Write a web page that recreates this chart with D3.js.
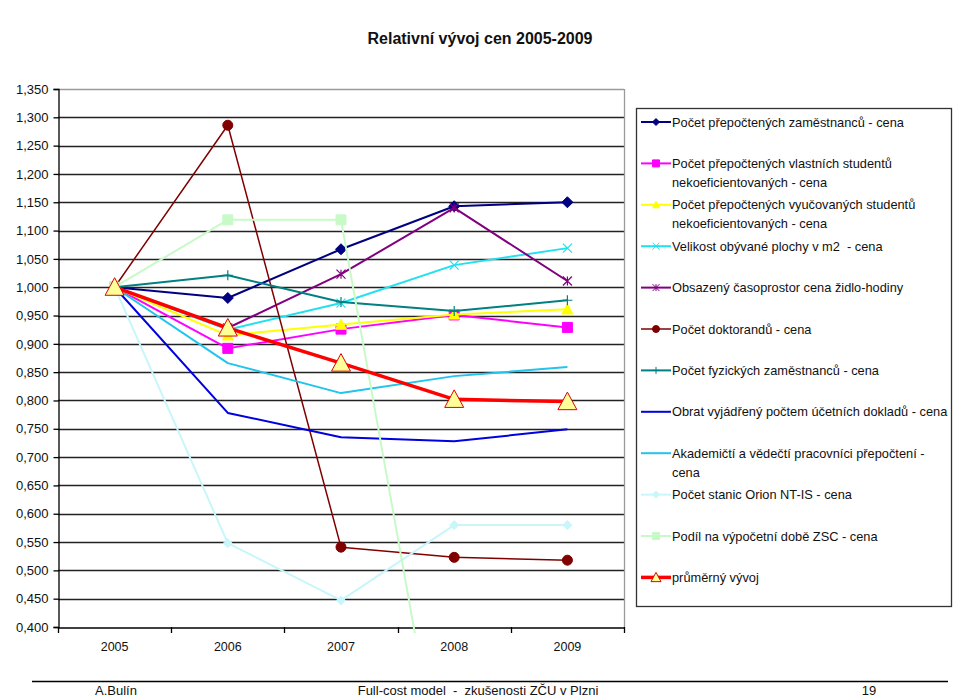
<!DOCTYPE html>
<html>
<head>
<meta charset="utf-8">
<script src="https://cdn.jsdelivr.net/npm/d3@7"></script>
<style>
  html, body { margin: 0; padding: 0; background: #fff; }
  text { font-family: "Liberation Sans", Arial, sans-serif; fill: #111; }
</style>
</head>
<body>
<svg id="chart" width="960" height="699"></svg>
<script>
// ---------------- DATA ----------------
const years = ["2005", "2006", "2007", "2008", "2009"];
const yTicks = [0.40, 0.45, 0.50, 0.55, 0.60, 0.65, 0.70, 0.75, 0.80, 0.85, 0.90, 0.95, 1.00, 1.05, 1.10, 1.15, 1.20, 1.25, 1.30, 1.35];

const seriesNames = [
  ["Počet přepočtených zaměstnanců - cena"],
  ["Počet přepočtených vlastních studentů", "nekoeficientovaných - cena"],
  ["Počet přepočtených vyučovaných studentů", "nekoeficientovaných - cena"],
  ["Velikost obývané plochy v m2  - cena"],
  ["Obsazený časoprostor cena židlo-hodiny"],
  ["Počet doktorandů - cena"],
  ["Počet fyzických zaměstnanců - cena"],
  ["Obrat vyjádřený počtem účetních dokladů - cena"],
  ["Akademičtí a vědečtí pracovníci přepočtení -", "cena"],
  ["Počet stanic Orion NT-IS - cena"],
  ["Podíl na výpočetní době ZSC - cena"],
  ["průměrný vývoj"]
];

const zamestnanci   = [1.000, 0.981, 1.067, 1.143, 1.150];
const vlastniStud   = [1.000, 0.892, 0.926, 0.951, 0.929];
const vyucovaniStud = [1.000, 0.915, 0.934, 0.952, 0.961];
const plocha        = [1.000, 0.925, 0.972, 1.039, 1.069];
const casoprostor   = [1.000, 0.928, 1.023, 1.140, 1.011];
const doktorandi    = [1.000, 1.286, 0.541, 0.523, 0.518];
const fyzicti       = [1.000, 1.021, 0.974, 0.958, 0.977];
const obrat         = [1.000, 0.778, 0.735, 0.728, 0.749];
const akademicti    = [1.000, 0.866, 0.813, 0.843, 0.859];
const orion         = [1.000, 0.548, 0.447, 0.580, 0.580];
const zsc           = [1.000, 1.119, 1.119, 0.000, 0.000];
const prumer        = [1.000, 0.928, 0.866, 0.802, 0.798];

const seriesValues = [zamestnanci, vlastniStud, vyucovaniStud, plocha, casoprostor,
  doktorandi, fyzicti, obrat, akademicti, orion, zsc, prumer];

// ---------------- STYLE ----------------
const styles = [
  { color: "#000080", width: 2,   marker: "diamond",  mfill: "#000080", mstroke: "#000080", msize: 11 },
  { color: "#FF00FF", width: 2,   marker: "square",   mfill: "#FF00FF", mstroke: "#FF00FF", msize: 10 },
  { color: "#FFFF00", width: 2,   marker: "triangle", mfill: "#FFFF00", mstroke: "#FFFF00", msize: 11 },
  { color: "#22E0F0", width: 2,   marker: "x",        mfill: "none",    mstroke: "#22E0F0", msize: 9 },
  { color: "#800080", width: 2,   marker: "asterisk", mfill: "none",    mstroke: "#800080", msize: 9 },
  { color: "#800000", width: 1.5, marker: "circle",   mfill: "#800000", mstroke: "#800000", msize: 10 },
  { color: "#008080", width: 2,   marker: "plus",     mfill: "none",    mstroke: "#008080", msize: 10 },
  { color: "#0000E0", width: 2,   marker: null },
  { color: "#20C4EC", width: 2,   marker: null },
  { color: "#C8F6FA", width: 2,   marker: "diamond",  mfill: "#C8F6FA", mstroke: "#C8F6FA", msize: 9 },
  { color: "#C8FAC8", width: 2,   marker: "square",   mfill: "#C8FAC8", mstroke: "#C8FAC8", msize: 10 },
  { color: "#FF0000", width: 3.5, marker: "triangle", mfill: "#FFFF99", mstroke: "#E00000", msize: 19 }
];

// ---------------- LAYOUT ----------------
const svg = d3.select("#chart");
svg.append("rect").attr("width", 960).attr("height", 699).attr("fill", "#fff");

const plot = { left: 58, right: 624, top: 89, bottom: 627 };

const x = d3.scaleBand().domain(years).range([plot.left, plot.right]);
const y = d3.scaleLinear().domain([0.40, 1.35]).range([plot.bottom, plot.top]);
const cx = d => x(d) + x.bandwidth() / 2;

// title
svg.append("text")
  .attr("x", 480).attr("y", 44)
  .attr("text-anchor", "middle")
  .style("font-size", "16px").style("font-weight", "bold")
  .text("Relativní vývoj cen 2005-2009");

// gridlines
svg.append("g").selectAll("line")
  .data(yTicks.filter(t => t > 0.4))
  .join("line")
  .attr("x1", plot.left).attr("x2", plot.right)
  .attr("y1", d => Math.round(y(d)) + 0.5).attr("y2", d => Math.round(y(d)) + 0.5)
  .attr("stroke", d => d >= 1.349 ? "#9a9a9a" : "#222")
  .attr("stroke-width", 1.3);

// right border
svg.append("line")
  .attr("x1", plot.right + 0.5).attr("x2", plot.right + 0.5)
  .attr("y1", plot.top).attr("y2", plot.bottom)
  .attr("stroke", "#9a9a9a").attr("stroke-width", 1.3);

// y axis
const fmt = d3.format(".3f");
const yAxis = d3.axisLeft(y).tickValues(yTicks).tickSize(5).tickPadding(5)
  .tickFormat(d => fmt(d).replace(".", ","));
const yg = svg.append("g").attr("transform", `translate(${plot.left + 0.5},0)`).call(yAxis);
yg.selectAll("text").style("font-size", "13px").style("font-family", "'Liberation Sans', Arial, sans-serif").attr("fill", "#111");
yg.selectAll("line, path").attr("stroke", "#000").attr("stroke-width", 1.3);

// x axis (labels centered, ticks on band boundaries)
const xAxis = d3.axisBottom(x).tickSize(0).tickPadding(15);
const xg = svg.append("g").attr("transform", `translate(0,${plot.bottom + 0.5})`).call(xAxis);
xg.select("path").attr("stroke", "#000").attr("stroke-width", 1.3);
xg.selectAll("text").style("font-size", "12.5px").style("font-family", "'Liberation Sans', Arial, sans-serif").attr("fill", "#111");
const bounds = years.map(d => x(d)).concat([x(years[years.length - 1]) + x.bandwidth()]);
svg.append("g").selectAll("line").data(bounds).join("line")
  .attr("x1", d => Math.round(d) + 0.5).attr("x2", d => Math.round(d) + 0.5)
  .attr("y1", plot.bottom).attr("y2", plot.bottom + 6)
  .attr("stroke", "#000").attr("stroke-width", 1.3);

// clip
svg.append("clipPath").attr("id", "clip")
  .append("rect").attr("x", plot.left).attr("y", plot.top - 20)
  .attr("width", plot.right - plot.left).attr("height", plot.bottom - plot.top + 26);

// markers
function markerPath(type, s) {
  const h = s / 2;
  switch (type) {
    case "diamond": return `M0,${-h}L${h},0L0,${h}L${-h},0Z`;
    case "square": return `M${-h},${-h}H${h}V${h}H${-h}Z`;
    case "triangle": return `M0,${-h}L${h},${h * 0.85}L${-h},${h * 0.85}Z`;
    case "circle": return d3.symbol(d3.symbolCircle, Math.PI * h * h)();
    case "x": return `M${-h},${-h}L${h},${h}M${h},${-h}L${-h},${h}`;
    case "plus": return `M${-h},0H${h}M0,${-h}V${h}`;
    case "asterisk": return `M${-h},${-h}L${h},${h}M${h},${-h}L${-h},${h}M0,${-h}V${h}`;
  }
  return "";
}

const line = d3.line().x((d, i) => cx(years[i])).y(d => y(d));
const gSeries = svg.append("g").attr("clip-path", "url(#clip)");

seriesValues.forEach((vals, si) => {
  const st = styles[si];
  const g = gSeries.append("g");
  g.append("path").datum(vals)
    .attr("d", line)
    .attr("fill", "none")
    .attr("stroke", st.color)
    .attr("stroke-width", st.width)
    .attr("stroke-linejoin", "round");
  if (st.marker) {
    g.selectAll("path.m").data(vals).join("path").attr("class", "m")
      .attr("transform", (d, i) => `translate(${cx(years[i])},${y(d)})`)
      .attr("d", markerPath(st.marker, st.msize))
      .attr("fill", st.mfill)
      .attr("stroke", st.mstroke)
      .attr("stroke-width", (st.marker === "x" || st.marker === "plus" || st.marker === "asterisk") ? 1.2 : 1);
  }
});

// legend
const lg = svg.append("g");
lg.append("rect").attr("x", 636.5).attr("y", 108.5).attr("width", 315).attr("height", 498)
  .attr("fill", "#fff").attr("stroke", "#333").attr("stroke-width", 1.3);

seriesNames.forEach((lines, i) => {
  const st = styles[i];
  const yc = 122 + i * 41.4;
  lg.append("line").attr("x1", 641).attr("x2", 671).attr("y1", yc).attr("y2", yc)
    .attr("stroke", st.color).attr("stroke-width", st.width);
  if (st.marker) {
    const ms = st.marker === "triangle" && i === 11 ? 10 : 7;
    lg.append("path").attr("transform", `translate(656,${yc})`)
      .attr("d", markerPath(st.marker, ms))
      .attr("fill", st.mfill).attr("stroke", st.mstroke).attr("stroke-width", 1);
  }
  const t = lg.append("text").attr("x", 672).attr("y", yc + 4.5)
    .style("font-size", "12.8px").style("white-space", "pre");
  lines.forEach((ln, k) => {
    t.append("tspan").attr("x", 672).attr("dy", k === 0 ? 0 : 19).text(ln);
  });
});

// footer
svg.append("line").attr("x1", 32).attr("x2", 948).attr("y1", 681.5).attr("y2", 681.5)
  .attr("stroke", "#000").attr("stroke-width", 1.5);
svg.append("text").attr("x", 95).attr("y", 695).style("font-size", "13px").text("A.Bulín");
svg.append("text").attr("x", 478).attr("y", 695).attr("text-anchor", "middle")
  .style("font-size", "13px").style("white-space", "pre")
  .text("Full-cost model  -  zkušenosti ZČU v Plzni");
svg.append("text").attr("x", 869).attr("y", 695).attr("text-anchor", "middle").style("font-size", "13px").text("19");
</script>
</body>
</html>
